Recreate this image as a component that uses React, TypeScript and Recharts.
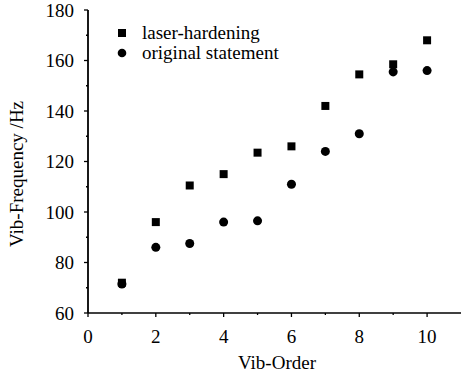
import { ScatterChart, Scatter, XAxis, YAxis, ZAxis, Legend } from "recharts";

const ORDERS = [1, 2, 3, 4, 5, 6, 7, 8, 9, 10];
const LASER = [72, 96, 110.5, 115, 123.5, 126, 142, 154.5, 158.5, 168];
const ORIGINAL = [71.5, 86, 87.5, 96, 96.5, 111, 124, 131, 155.5, 156];
const SERIES_NAMES = ["laser-hardening", "original statement"];
const X_TICKS = [0, 1, 2, 3, 4, 5, 6, 7, 8, 9, 10];
const Y_TICKS = [60, 70, 80, 90, 100, 110, 120, 130, 140, 150, 160, 170, 180];

const FONT = '"Liberation Serif", "Times New Roman", serif';
const FS = 19;

const laserData = ORDERS.map((x, i) => ({ x, y: LASER[i] }));
const originalData = ORDERS.map((x, i) => ({ x, y: ORIGINAL[i] }));

// tickSize 4 + tickMargin
function YTick(props: any) {
  const { x, y, payload } = props;
  const v = payload.value;
  const major = v % 20 === 0;
  const axisX = x + 4 + 10;
  return (
    <g>
      <line x1={axisX - (major ? 4 : 2)} x2={axisX} y1={y} y2={y} stroke="#000" strokeWidth={1.3} />
      {major && (
        <text x={x} y={y} dy="0.35em" textAnchor="end" fontFamily={FONT} fontSize={FS} fill="#000">
          {v}
        </text>
      )}
    </g>
  );
}

function XTick(props: any) {
  const { x, y, payload } = props;
  const v = payload.value;
  const major = v % 2 === 0;
  const axisY = y - 4 - 13;
  return (
    <g>
      <line x1={x} x2={x} y1={axisY} y2={axisY + (major ? 4 : 2)} stroke="#000" strokeWidth={1.3} />
      {major && (
        <text x={x} y={y} dy="0.71em" textAnchor="middle" fontFamily={FONT} fontSize={FS} fill="#000">
          {v}
        </text>
      )}
    </g>
  );
}

const renderLegend = () => (
  <div style={{ fontFamily: FONT, fontSize: FS, color: "#000", lineHeight: "20px" }}>
    {SERIES_NAMES.map((name, i) => (
      <div key={name} style={{ display: "flex", alignItems: "center", height: 20 }}>
        <svg width={12} height={12} style={{ marginRight: 14 }}>
          {i === 0 ? <rect x={2} y={2} width={8} height={8} fill="#000" /> : <circle cx={6} cy={6} r={4.3} fill="#000" />}
        </svg>
        <span>{name}</span>
      </div>
    ))}
  </div>
);

export default function App() {
  return (
    <div style={{ position: "absolute", left: 0, top: 0, background: "#fff" }}>
      <ScatterChart width={461} height={376} margin={{ top: 10, right: 0, left: 0, bottom: 0 }}>
        <XAxis
          type="number"
          dataKey="x"
          domain={[0, 11]}
          ticks={X_TICKS}
          interval={0}
          height={63}
          tickSize={4}
          tickMargin={13}
          tickLine={false}
          tick={<XTick />}
          axisLine={{ stroke: "#000", strokeWidth: 1.5 }}
          allowDataOverflow
          label={{
            content: () => (
              <text x={277} y={369} textAnchor="middle" fontFamily={FONT} fontSize={FS} fill="#000">
                Vib-Order
              </text>
            ),
          }}
        />
        <YAxis
          type="number"
          dataKey="y"
          domain={[60, 180]}
          ticks={Y_TICKS}
          interval={0}
          width={88}
          tickSize={4}
          tickMargin={10}
          tickLine={false}
          tick={<YTick />}
          axisLine={{ stroke: "#000", strokeWidth: 1.8 }}
          allowDataOverflow
          label={{
            content: () => (
              <text
                x={16}
                y={174}
                transform="rotate(-90, 16, 174)"
                textAnchor="middle"
                dominantBaseline="central"
                fontFamily={FONT}
                fontSize={FS}
                fill="#000"
              >
                Vib-Frequency /Hz
              </text>
            ),
          }}
        />
        <ZAxis range={[52, 52]} />
        <Legend
          layout="vertical"
          align="center"
          verticalAlign="middle"
          content={renderLegend}
          wrapperStyle={{ position: "absolute", left: 116, top: 23, width: "auto", height: "auto" }}
        />
        <Scatter name={SERIES_NAMES[0]} data={laserData} shape="square" fill="#000" isAnimationActive={false} />
        <Scatter name={SERIES_NAMES[1]} data={originalData} shape="circle" fill="#000" isAnimationActive={false} />
      </ScatterChart>
    </div>
  );
}
